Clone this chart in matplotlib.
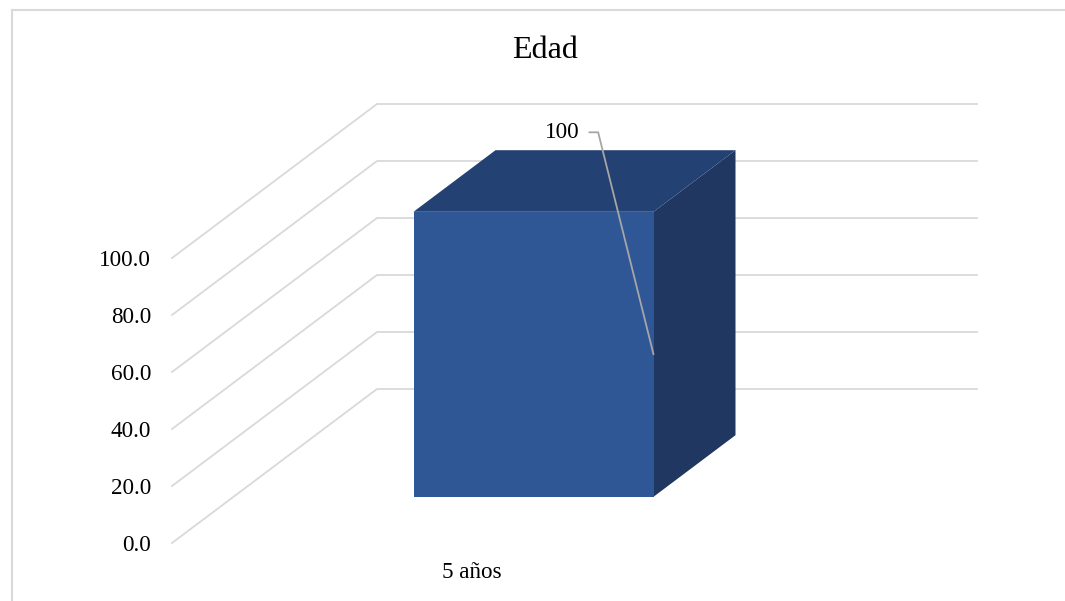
import matplotlib.pyplot as plt
from matplotlib.patches import Polygon
from matplotlib.lines import Line2D

# donnees
categorias = ["5 años"]
valores = [100]
ticks_y = [0, 20, 40, 60, 80, 100]
titulo = "Edad"

plt.rcParams['font.family'] = ['Liberation Serif', 'DejaVu Serif']

fig = plt.figure(figsize=(10.65, 6.01), dpi=100)
# plan avant du "3D" d'Excel
ax = fig.add_axes([172 / 1065, 58 / 601, 600 / 1065, 285 / 601])
ax.set_xlim(-0.5, 0.5)
ax.set_ylim(0, 100)
ax.set_frame_on(False)

# profondeur (projection oblique) en unites de donnees
DX = 205 / 600
DV = 154 / 2.85


def pt(x, v, d):
    return (x + d * DX, v + d * DV)


grid_col = "#d9d9d9"
for v in ticks_y:
    p0, p1, p2 = pt(-0.5, v, 0), pt(-0.5, v, 1), pt(0.5, v, 1)
    ax.add_line(Line2D([p0[0], p1[0], p2[0]], [p0[1], p1[1], p2[1]],
                       color=grid_col, lw=1.3, clip_on=False, zorder=1))

ax.set_yticks(ticks_y)
ax.set_yticklabels(["%.1f" % v for v in ticks_y])
ax.set_xticks(range(len(categorias)))
ax.set_xticklabels(categorias)
ax.tick_params(axis='y', length=0, pad=15, labelsize=16.7, labelcolor="#000000")
ax.tick_params(axis='x', length=0, pad=14, labelsize=16.7, labelcolor="#000000")

# barre
w = 0.2
d0, d1 = 0.30, 0.70
for i, val in enumerate(valores):
    xa, xb = i - w, i + w
    front = [pt(xa, 0, d0), pt(xb, 0, d0), pt(xb, val, d0), pt(xa, val, d0)]
    top = [pt(xa, val, d0), pt(xb, val, d0), pt(xb, val, d1), pt(xa, val, d1)]
    side = [pt(xb, 0, d0), pt(xb, 0, d1), pt(xb, val, d1), pt(xb, val, d0)]
    ax.add_patch(Polygon(side, closed=True, fc="#203762", ec="none", clip_on=False, zorder=3))
    ax.add_patch(Polygon(top, closed=True, fc="#244174", ec="none", clip_on=False, zorder=3))
    ax.add_patch(Polygon(front, closed=True, fc="#2f5796", ec="none", clip_on=False, zorder=4))

    ax.annotate(str(val), xy=pt(xb, val / 2, d0), xytext=(-74, 222),
                textcoords='offset pixels', ha='right', va='center', fontsize=16.7,
                zorder=6,
                arrowprops=dict(arrowstyle='-', color="#a6a6a6", lw=1.3,
                                shrinkA=5, shrinkB=0,
                                connectionstyle="angle,angleA=0,angleB=104,rad=0"))

fig.text(545 / 1065, 1 - 50 / 601, titulo, ha='center', va='center', fontsize=23)

# bordure du graphique (partiellement visible)
fig.add_artist(Line2D([11.5 / 1065, 11.5 / 1065], [0, 1 - 9.5 / 601],
                      transform=fig.transFigure, color="#d9d9d9", lw=1.5))
fig.add_artist(Line2D([11.5 / 1065, 1], [1 - 9.5 / 601, 1 - 9.5 / 601],
                      transform=fig.transFigure, color="#d9d9d9", lw=1.5))

fig.savefig("out.png", dpi=100)
